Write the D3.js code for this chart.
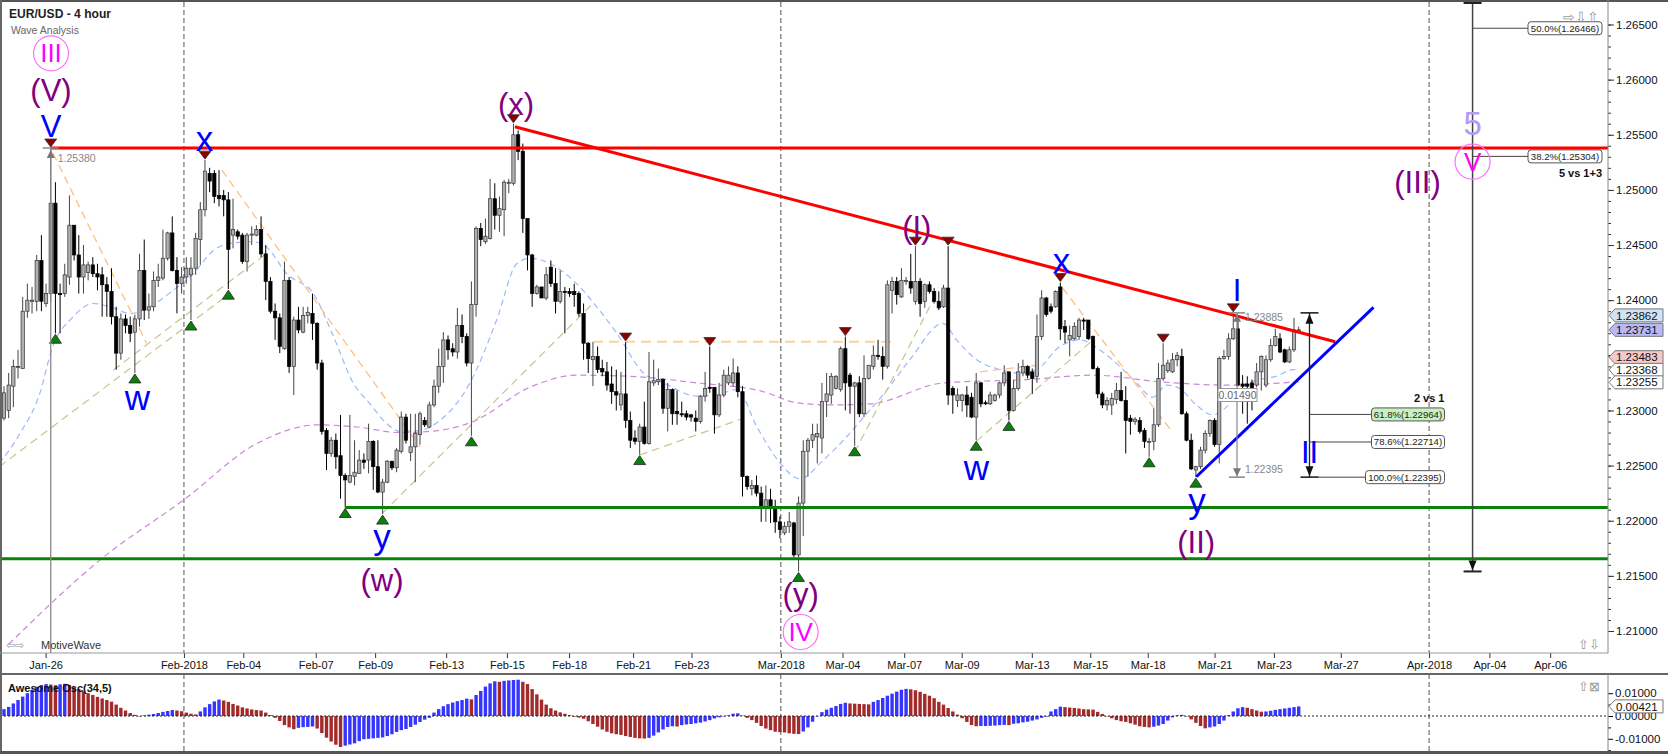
<!DOCTYPE html>
<html><head><meta charset="utf-8">
<script src="https://cdn.jsdelivr.net/npm/d3@7"></script>
<style>
html,body{margin:0;padding:0;background:#fff;}
svg{display:block;font-family:"Liberation Sans",Arial,sans-serif;}
</style></head><body>
<svg id="chart" width="1668" height="754"></svg>
<script>
// ---------------- DATA ----------------
const priceBase = 1.2;           // candle values are pips above 1.2000
const openPips = [
293,300,322,339,338,390,399,399,436,397, 406,488,406,406,421,468,441,421,425,432,
424,423,414,408,385,352,383,377,371,383, 427,391,394,418,420,438,461,427,415,421,
423,429,455,482,515,515,495,495,491,459, 462,459,435,459,459,464,442,417,390,384,
356,418,340,382,371,386,388,379,343,282, 261,273,259,241,235,240,243,255,255,272,
249,226,235,254,248,263,294,262,267,278, 291,285,305,322,340,364,356,353,377,367,
343,396,465,453,456,492,477,482,506,506, 550,535,474,441,406,412,402,430,415,399,
408,408,408,406,388,361,346,349,338,335, 324,317,305,315,291,275,272,285,270,325,
326,328,302,319,299,297,297,296,293,290, 313,321,321,296,314,325,325,334,317,240,
229,232,225,213,219,211,199,189,195,198, 169,216,263,273,276,275,308,314,320,319,
356,332,322,325,297,329,340,350,349,340, 409,417,403,417,417,399,417,399,414,408,
399,394,411,320,309,309,314,312,294,325, 307,306,309,314,325,335,300,320,334,340,
335,331,367,402,394,394,412,376,364,365, 367,382,382,367,338,315,305,305,310,318,
309,293,290,291,282,271,272,287,329,336, 335,346,349,297,273,246,249,264,279,291,
269,347,349,365,374,324,324,325,323,335, 323,346,359,365,355,344,355,373];
const highPips = [
322,334,346,355,403,415,412,441,459,415, 538,507,415,433,495,468,459,450,435,439,
433,430,421,429,394,388,387,385,387,442, 455,406,426,433,464,462,476,439,430,439,
439,461,489,527,520,518,518,500,498,492, 464,461,461,467,468,476,450,421,397,388,
435,421,385,394,394,394,406,380,346,284, 276,279,296,243,296,273,264,261,288,273,
273,238,255,254,266,299,297,297,297,299, 294,308,328,356,371,368,361,393,387,370,
417,467,470,474,510,506,494,509,510,560, 554,542,474,442,414,412,430,436,429,427,
412,411,415,408,397,362,362,358,346,344, 340,337,335,362,299,282,288,308,353,346,
338,329,325,320,318,308,300,297,300,314, 335,358,321,325,337,340,347,340,322,241,
237,241,231,232,229,219,204,199,208,199, 222,273,275,288,288,325,334,334,332,358,
367,334,326,331,350,341,359,364,358,418, 421,421,429,421,442,449,420,415,417,411,
408,414,449,322,320,315,322,316,334,326, 309,317,315,326,341,335,328,343,346,341,
338,387,409,403,397,409,416,382,377,380, 384,384,382,368,340,317,312,316,325,335,
322,296,294,294,284,275,302,343,361,346, 352,353,356,299,279,250,267,282,292,293,
349,355,370,388.5,385,332,331,328,343,350, 350,365,374,370,356,358,384,376];
const lowPips = [
291,293,303,329,338,384,388,390,390,394, 398,370,370,403,414,436,406,406,418,421,
409,385,385,378,337,346,370,362,334,376, 382,383,390,412,418,436,426,388,406,415,
382,423,432,476,498,488,485,476,410,447, 455,433,426,450,458,439,400,388,364,352,
355,334,314,370,370,379,364,337,278,246, 258,247,220,212,234,232,243,247,243,228,
225,206,234,246,244,261,270,254,235,269, 285,284,303,316,325,346,349,347,361,340,
277,385,449,451,455,464,462,458,497,504, 527,461,427,394,405,402,400,412,388,397,
370,403,394,385,346,334,322,334,331,318, 306,300,300,284,266,269,260,269,269,322,
323,297,281,287,287,294,291,290,281,288, 308,316,279,294,312,323,322,312,222,228,
223,222,199,199,198,189,184,187,189,167, 154,186,240,266,252,261,294,306,319,317,
300,297,268,294,294,328,337,346,328,338, 388,396,402,414,406,396,385,393,406,397,
391,393,305,297,303,299,294,293,273,303, 305,305,308,311,322,291,299,318,331,329,
315,325,364,385,388,393,364,361,349,364, 364,373,364,337,311,302,300,296,306,308,
261,278,287,279,266,258,264,285,327,334, 334,340,296,272,246,239.5,247,261,276,267,
252,346,346,364,322,297,288,300,321,318, 321,344,358,352,343,343,353,371];
const closePips = [
316,323,340,340,390,400,400,436,399,406, 488,406,405,423,468,441,421,432,432,424,
421,414,408,385,352,383,377,370,383,427, 391,394,418,421,438,461,427,415,421,429,
429,456,482,517,508,494,492,491,446,464, 458,435,459,460,464,442,417,390,384,358,
418,340,382,373,386,389,379,343,281,261, 273,258,241,237,241,244,255,253,272,249,
226,235,254,248,264,294,273,267,279,297, 287,305,322,340,364,355,353,377,367,343,
396,465,455,458,492,477,483,507,507,550, 535,474,441,406,412,402,423,415,399,408,
407,406,405,388,361,347,349,337,335,323, 317,314,315,291,273,272,285,270,326,327,
328,302,319,297,297,296,294,294,290,313, 320,320,296,314,332,332,334,317,240,231,
232,225,213,219,211,199,192,195,199,169, 216,263,273,278,279,308,315,331,331,356,
325,322,325,297,329,341,350,349,340,414, 417,405,418,418,411,417,397,414,408,399,
393,411,314,314,314,314,305,294,325,306, 306,314,314,325,334,300,320,335,340,332,
329,367,402,387,390,408,374,371,368,376, 382,381,365,338,315,305,309,311,318,309,
291,290,292,281,272,272,287,329,341,343, 346,350,297,273,247,249,264,279,291,269,
347,349,365,374,323,322,322,320,335,349, 346,359,367,353,344,355,373,373.1];

// Awesome Oscillator (34,5), in thousandths
const aoThousandths = [
3.0,4.0,5.5,7.0,8.5,10.0,11.5,12.8,13.6,14.0, 13.8,13.5,13.9,14.1,13.6,12.6,11.8,10.9,10.0,9.2,
8.4,7.7,7.0,6.3,5.0,3.6,2.4,1.3,0.5,-0.2, 0.3,0.6,0.9,1.3,1.8,2.2,2.6,2.4,2.1,1.5,
1.0,0.7,2.0,3.8,5.2,6.4,7.2,6.8,6.2,5.3, 4.6,3.8,3.3,2.9,2.6,2.4,1.5,0.4,-0.8,-2.2,
-4.0,-5.0,-5.8,-5.2,-4.9,-4.8,-4.6,-5.5,-7.5,-9.5, -11.2,-12.6,-13.6,-13.0,-12.5,-12.0,-11.0,-10.2,-10.0,-9.8,
-9.6,-9.4,-8.8,-8.0,-7.0,-6.2,-5.7,-4.8,-3.8,-2.6, -1.6,-0.8,1.5,3.0,4.3,5.2,5.9,6.5,7.0,7.6,
7.3,9.2,11.0,12.9,14.3,15.2,15.0,15.4,15.6,15.8, 15.9,15.0,14.0,11.8,9.5,7.2,5.0,3.4,2.4,1.6,
1.0,0.4,-0.3,-0.7,-1.2,-2.3,-3.5,-4.7,-5.9,-6.9, -7.6,-8.0,-8.3,-8.8,-9.2,-9.6,-9.8,-9.9,-9.6,-8.6,
-7.2,-5.9,-4.8,-4.5,-4.6,-4.0,-3.7,-3.5,-3.2,-2.9, -2.4,-1.8,-1.1,-0.6,-0.2,0.3,1.0,1.2,0.2,-0.8,
-1.8,-3.0,-4.4,-5.5,-6.2,-6.9,-7.1,-7.2,-7.6,-7.8, -7.9,-6.8,-5.0,-2.5,-0.2,1.7,2.8,3.6,4.4,5.3,
5.8,5.5,5.4,5.3,5.2,5.1,6.2,7.0,7.9,8.9, 9.8,10.7,11.5,11.9,11.7,11.3,10.6,9.7,8.9,7.8,
6.2,5.0,3.5,2.0,0.6,-1.0,-2.6,-4.0,-4.5,-4.4, -4.4,-4.3,-4.2,-4.0,-3.9,-4.0,-3.4,-3.2,-2.8,-2.5,
-2.0,-1.5,-0.8,-0.3,2.0,3.0,4.1,3.9,3.7,3.5, 3.3,3.0,2.9,2.8,1.8,0.9,-0.2,-1.0,-1.8,-2.3,
-2.6,-3.2,-3.8,-4.5,-4.8,-5.0,-4.7,-4.2,-3.5,-2.0, -0.6,0.3,0.5,-0.2,-1.5,-3.0,-4.4,-5.4,-5.0,-4.6,
-3.5,-2.0,0.4,2.0,3.4,3.9,3.6,3.0,2.4,1.9, 2.0,2.3,2.7,3.0,3.3,3.6,3.9,4.2];

// time axis (bar index of each date tick)
const dateTickLabels = ["Jan-26","Feb-2018","Feb-04","Feb-07","Feb-09","Feb-13","Feb-15","Feb-18","Feb-21","Feb-23",
  "Mar-2018","Mar-04","Mar-07","Mar-09","Mar-13","Mar-15","Mar-18","Mar-21","Mar-23","Mar-27","Apr-2018","Apr-04","Apr-06"];
const dateTickBars = [8.9,38.5,51.2,66.7,79.4,94.6,107.6,120.9,134.6,147.1,
  166.2,179.4,192.6,204.9,219.9,232.4,244.7,259,271.7,286,304.9,317.8,330.8];
const monthStartBars = [38.5,166.2,304.9];
const priceTicks = [1.21,1.215,1.22,1.225,1.23,1.235,1.24,1.245,1.25,1.255,1.26,1.265];
const aoTicks = [0.01,0,-0.01];

// indicator lines: [bar, price]
const fastMA = [[-1,1.2252],[3.4,1.2279],[7.7,1.2316],[10.2,1.2355],[14.8,1.2385],[19.1,1.2397],[22.7,1.2394],[27,1.2388],[31.2,1.2394],[36.2,1.2409],[40.5,1.2424],[44.8,1.2445],[47.6,1.2451],[53.3,1.2453],[56.2,1.2448],[60.5,1.2424],[66.2,1.2406],[70.5,1.2367],[74.7,1.2325],[78.3,1.2306],[81.9,1.2288],[84.7,1.2281],[89,1.2282],[93.3,1.2291],[99.7,1.2325],[105.4,1.2382],[109.7,1.2433],[112.6,1.2438],[122.5,1.2415],[126.8,1.2394],[131.1,1.2370],[136.8,1.2334],[141.1,1.2325],[148.3,1.2313],[152.5,1.2314],[156.8,1.2319],[161.1,1.2285],[166.1,1.2252],[170.3,1.2238],[175.3,1.2255],[179.6,1.2273],[183.5,1.2292],[188.8,1.2318],[193.8,1.2346],[200.9,1.2379],[203.8,1.2364],[208.1,1.2346],[213.1,1.2337],[217.3,1.2334],[220.9,1.2337],[225.9,1.2358],[230.2,1.2364],[234.4,1.2355],[238.7,1.2340],[242.3,1.2325],[245.8,1.2312],[248.7,1.2323],[251.5,1.2320],[255.1,1.2305],[258.6,1.2296],[261.5,1.2303],[265,1.2322],[268.6,1.2328],[272.2,1.2331],[275.7,1.2337],[277,1.2337]];
const slowMA = [[1,1.2088],[21.3,1.2167],[38.5,1.2219],[54.1,1.2270],[67.2,1.2287],[75.5,1.2285],[84.7,1.2280],[91.1,1.2281],[100.4,1.2290],[112.5,1.2321],[122.5,1.2332],[133.9,1.2331],[148.2,1.2325],[162.5,1.2317],[169.6,1.2307],[176.7,1.2305],[185.3,1.2306],[201,1.2325],[218.8,1.2328],[233.1,1.2332],[247.3,1.2326],[261.6,1.2323],[277,1.2326]];
const swingDownLines = [[10.5,1.25332,30.5,1.23609],[46.6,1.2518,89,1.22671],[208.8,1.2335,220.9,1.2341],[226.5,1.2411,249.5,1.2283]];
const swingFlatLines = [[126,1.23623,190.3,1.23623]];
const swingUpLines = [[-1,1.2249,48,1.2405],[23.4,1.23366,56.2,1.24425],[81,1.2207,126,1.2397],[136,1.22596,158.2,1.22929],[182,1.2262,199.5,1.2406],[208,1.2272,233,1.2364]];

// drawn levels / trend lines
const resistanceLevel = {bar:10, price:1.2538};
const supportLevels = [{bar:73, price:1.22121},{bar:-1, price:1.21656}];
const downTrend = [109.3,1.25573,284.8,1.23623];
const upTrend = [255.1,1.22399,293,1.23935];

const swingHighBars = [10,43,109,133,151,180,195,202,226,248,263];
const swingLowBars = [11,28,40,48,73,81,100,136,170,182,208,215,245,255];

const waveLabels = [
  {t:"III", bar:10.06, price:1.26239, kind:"primary"},
  {t:"(V)", bar:10.06, price:1.25900, kind:"intermediate"},
  {t:"V", bar:10.06, price:1.25573, kind:"minor"},
  {t:"x", bar:42.92, price:1.25464, kind:"minor"},
  {t:"(x)", bar:109.54, price:1.25778, kind:"intermediate"},
  {t:"w", bar:28.56, price:1.23122, kind:"minor"},
  {t:"y", bar:80.87, price:1.21857, kind:"minor"},
  {t:"(w)", bar:80.87, price:1.21459, kind:"intermediate"},
  {t:"(y)", bar:170.45, price:1.21334, kind:"intermediate"},
  {t:"IV", bar:170.45, price:1.20991, kind:"primary"},
  {t:"(I)", bar:195.29, price:1.24660, kind:"intermediate"},
  {t:"w", bar:208.04, price:1.22487, kind:"minor"},
  {t:"x", bar:226.23, price:1.24362, kind:"minor"},
  {t:"I", bar:263.8, price:1.24092, kind:"minor"},
  {t:"y", bar:255.24, price:1.22186, kind:"minor"},
  {t:"(II)", bar:255.07, price:1.21803, kind:"intermediate"},
  {t:"II", bar:279.31, price:1.22623, kind:"minor"},
  {t:"(III)", bar:302.42, price:1.25068, kind:"intermediate"},
  {t:"5", bar:314.2, price:1.25604, kind:"count"},
  {t:"V", bar:314.2, price:1.25256, kind:"primary"}
];

const wave5Tool = {bar:314.2, from:1.2154};
const wave5Levels = [{pct:"50.0%", value:1.26466},{pct:"38.2%", value:1.25304}];
const wave2Tool = {bar:279.31, top:1.23885, bottom:1.22395};
const wave2Levels = [{pct:"61.8%", value:1.22964},{pct:"78.6%", value:1.22714},{pct:"100.0%", value:1.22395}];
const waveIMeasure = {bar:263.8, top:1.23885, bottom:1.22395, diff:"0.01490"};
const waveVMeasure = {bar:10, top:1.2538};
const priceTags = [1.23862,1.23731,1.23483,1.23368,1.23255];
const aoTag = 0.00421;

// ---------------- LAYOUT ----------------
const svg = d3.select("#chart");
const PLOT_R = 1608, MAIN_T = 2, MAIN_B = 653, AXIS_B = 674, AO_B = 751;
const X0 = 4, DX = 4.674;
const x = d3.scaleLinear().domain([0,100]).range([X0, X0 + 100*DX]);
const y = d3.scaleLinear().domain([1.21,1.265]).range([631,24.5]);
const yAO = d3.scaleLinear().domain([-0.01,0.01]).range([738.8,693.2]);
const P = v => priceBase + v/10000;

const candles = openPips.map((o,i)=>({i, o:P(o), h:P(highPips[i]), l:P(lowPips[i]), c:P(closePips[i])}));

svg.append("rect").attr("width",1668).attr("height",754).attr("fill","#fff");
const defs = svg.append("defs");
defs.append("clipPath").attr("id","cMain").append("rect").attr("x",0).attr("y",MAIN_T).attr("width",PLOT_R).attr("height",MAIN_B-MAIN_T);
defs.append("clipPath").attr("id","cAO").append("rect").attr("x",0).attr("y",AXIS_B).attr("width",PLOT_R).attr("height",AO_B-AXIS_B);

const gMain = svg.append("g").attr("clip-path","url(#cMain)");
const gAO = svg.append("g").attr("clip-path","url(#cAO)");

// month separators
monthStartBars.forEach(b=>{
  [[MAIN_T,MAIN_B,gMain],[AXIS_B,AO_B,gAO]].forEach(([a,bb,g])=>{
    g.append("line").attr("x1",x(b)).attr("x2",x(b)).attr("y1",a).attr("y2",bb)
      .attr("stroke","#555").attr("stroke-width",1).attr("stroke-dasharray","5,3");
  });
});

// moving averages
const maLine = d3.line().x(d=>x(d[0])).y(d=>y(d[1])).curve(d3.curveMonotoneX);
gMain.append("path").attr("d",maLine(slowMA)).attr("fill","none").attr("stroke","#cc88d8").attr("stroke-width",1.2).attr("stroke-dasharray","6,4");
gMain.append("path").attr("d",maLine(fastMA)).attr("fill","none").attr("stroke","#9db8ff").attr("stroke-width",1.2).attr("stroke-dasharray","6,4");

function seg(g, s, color, w, dash){
  g.append("line").attr("x1",x(s[0])).attr("y1",y(s[1])).attr("x2",x(s[2])).attr("y2",y(s[3]))
   .attr("stroke",color).attr("stroke-width",w).attr("stroke-dasharray",dash||null);
}
swingUpLines.forEach(s=>seg(gMain,s,"#c9c38e",1.2,"8,5"));
swingDownLines.forEach(s=>seg(gMain,s,"#ffbf80",1.3,"8,5"));
swingFlatLines.forEach(s=>seg(gMain,s,"#ffd0a0",2,"10,6"));

// candles
const bw = 3.3;
const cg = gMain.append("g");
cg.selectAll("line.w").data(candles).join("line").attr("class","w")
  .attr("x1",d=>x(d.i)).attr("x2",d=>x(d.i))
  .attr("y1",d=>y(d.h)).attr("y2",d=>y(d.l))
  .attr("stroke",d=>d.c>=d.o?"#444":"#000").attr("stroke-width",1);
cg.selectAll("rect.b").data(candles).join("rect").attr("class","b")
  .attr("x",d=>x(d.i)-bw/2).attr("width",bw)
  .attr("y",d=>y(Math.max(d.o,d.c)))
  .attr("height",d=>Math.max(1,Math.abs(y(d.o)-y(d.c))))
  .attr("fill",d=>d.c>=d.o?"#b0b0b0":"#000")
  .attr("stroke",d=>d.c>=d.o?"#333":"#000").attr("stroke-width",0.7);

// levels
const rightBar = x.invert(PLOT_R);
seg(gMain,[supportLevels[0].bar,supportLevels[0].price,rightBar,supportLevels[0].price],"#0a820a",3);
seg(gMain,[supportLevels[1].bar,supportLevels[1].price,rightBar,supportLevels[1].price],"#0a820a",3);
seg(gMain,[resistanceLevel.bar,resistanceLevel.price,rightBar,resistanceLevel.price],"#ff0000",3);
seg(gMain,downTrend,"#ff0000",3);
seg(gMain,upTrend,"#0000ff",3);

// swing markers
swingHighBars.forEach(i=>{
  const cx=x(i), cy=y(candles[i].h)-1;
  gMain.append("path").attr("d",`M${cx},${cy} L${cx-6},${cy-8} L${cx+6},${cy-8} Z`).attr("fill","#8b0000").attr("stroke","#333").attr("stroke-width",0.8);
});
swingLowBars.forEach(i=>{
  const cx=x(i), cy=y(candles[i].l)+1;
  gMain.append("path").attr("d",`M${cx},${cy} L${cx-6},${cy+9} L${cx+6},${cy+9} Z`).attr("fill","#0a820a").attr("stroke","#222").attr("stroke-width",0.8);
});

// measurement at wave V high
{
  const mx=x(waveVMeasure.bar), my=y(waveVMeasure.top);
  gMain.append("line").attr("x1",mx).attr("x2",mx).attr("y1",my).attr("y2",MAIN_B).attr("stroke","#888").attr("stroke-width",1.3);
  gMain.append("line").attr("x1",mx-8).attr("x2",mx+8).attr("y1",my).attr("y2",my).attr("stroke","#888").attr("stroke-width",1.5);
  gMain.append("path").attr("d",`M${mx},${my+2} L${mx-4},${my+10} L${mx+4},${my+10} Z`).attr("fill","#777");
  gMain.append("text").attr("x",mx+7).attr("y",my+14).attr("font-size",10.5).attr("fill","#888").text(waveVMeasure.top.toFixed(5));
}
// measurement of wave I
{
  const mx=x(waveIMeasure.bar), t=y(waveIMeasure.top), b=y(waveIMeasure.bottom);
  const g=gMain.append("g");
  g.append("line").attr("x1",mx).attr("x2",mx).attr("y1",t).attr("y2",b).attr("stroke","#888").attr("stroke-width",1.2);
  [t,b].forEach(v=>g.append("line").attr("x1",mx-8).attr("x2",mx+8).attr("y1",v).attr("y2",v).attr("stroke","#888").attr("stroke-width",1.5));
  g.append("path").attr("d",`M${mx},${t+1} L${mx-4},${t+9} L${mx+4},${t+9} Z`).attr("fill","#777");
  g.append("path").attr("d",`M${mx},${b-1} L${mx-4},${b-9} L${mx+4},${b-9} Z`).attr("fill","#777");
  g.append("text").attr("x",mx+8).attr("y",t+4).attr("dy","0.35em").attr("font-size",10.5).attr("fill","#888").text(waveIMeasure.top.toFixed(5));
  g.append("text").attr("x",mx+8).attr("y",b-8).attr("dy","0.35em").attr("font-size",10.5).attr("fill","#888").text(waveIMeasure.bottom.toFixed(5));
  const by=395;
  g.append("rect").attr("x",mx-19).attr("y",by-6.5).attr("width",39).attr("height",13).attr("fill","#fff").attr("stroke","#999");
  g.append("text").attr("x",mx+0.5).attr("y",by).attr("dy","0.35em").attr("text-anchor","middle").attr("font-size",10.5).attr("fill","#666").text(waveIMeasure.diff);
}

function fibBox(g, right, yc, text, fill, w){
  g.append("rect").attr("x",right-w).attr("y",yc-6.5).attr("width",w).attr("height",13).attr("rx",3)
    .attr("fill",fill).attr("stroke","#555").attr("stroke-width",1);
  g.append("text").attr("x",right-w/2).attr("y",yc).attr("dy","0.35em").attr("text-anchor","middle")
    .attr("font-size",9.6).attr("fill","#222").text(text);
}
// wave 2 vs 1 tool
{
  const g=gMain.append("g"); const mx=x(wave2Tool.bar), t=y(wave2Tool.top), b=y(wave2Tool.bottom);
  g.append("line").attr("x1",mx).attr("x2",mx).attr("y1",t).attr("y2",b).attr("stroke","#222").attr("stroke-width",1.3);
  [t,b].forEach(v=>g.append("line").attr("x1",mx-9).attr("x2",mx+9).attr("y1",v).attr("y2",v).attr("stroke","#222").attr("stroke-width",1.6));
  g.append("path").attr("d",`M${mx},${t+1} L${mx-4},${t+11} L${mx+4},${t+11} Z`).attr("fill","#111");
  g.append("path").attr("d",`M${mx},${b-1} L${mx-4},${b-11} L${mx+4},${b-11} Z`).attr("fill","#111");
  const right = 1444.5;
  wave2Levels.forEach((lv,k)=>{
    const yy=y(lv.value), w = k===2?79:73;
    g.append("line").attr("x1",mx).attr("x2",right-w).attr("y1",yy).attr("y2",yy).attr("stroke","#444").attr("stroke-width",1);
    fibBox(g,right,yy,`${lv.pct}(${lv.value.toFixed(5)})`,k===0?"#c8f0c0":"#fff",w);
  });
  g.append("text").attr("x",right).attr("y",398).attr("dy","0.35em").attr("text-anchor","end").attr("font-size",11).attr("font-weight","bold").attr("fill","#111").text("2 vs 1");
}
// wave 5 vs 1+3 tool
{
  const g=gMain.append("g"); const mx=x(wave5Tool.bar), b=y(wave5Tool.from);
  g.append("line").attr("x1",mx).attr("x2",mx).attr("y1",MAIN_T).attr("y2",b).attr("stroke","#444").attr("stroke-width",1.5);
  g.append("line").attr("x1",mx-9).attr("x2",mx+9).attr("y1",MAIN_T+1).attr("y2",MAIN_T+1).attr("stroke","#222").attr("stroke-width",2);
  g.append("line").attr("x1",mx-9).attr("x2",mx+9).attr("y1",b).attr("y2",b).attr("stroke","#222").attr("stroke-width",2);
  g.append("path").attr("d",`M${mx},${b-1} L${mx-4},${b-11} L${mx+4},${b-11} Z`).attr("fill","#111");
  const right=1602;
  wave5Levels.forEach(lv=>{
    const yy=y(lv.value);
    g.append("line").attr("x1",mx).attr("x2",right-74).attr("y1",yy).attr("y2",yy).attr("stroke","#444").attr("stroke-width",1);
    fibBox(g,right,yy,`${lv.pct}(${lv.value.toFixed(5)})`,"#fff",74);
  });
  g.append("text").attr("x",right).attr("y",173).attr("dy","0.35em").attr("text-anchor","end").attr("font-size",11).attr("font-weight","bold").attr("fill","#111").text("5 vs 1+3");
}

// wave labels
const kindStyle = {
  primary:{color:"#ff00ff", size:26},
  intermediate:{color:"#800080", size:31},
  minor:{color:"#0000ff", size:31},
  count:{color:"#b39cf2", size:33}
};
waveLabels.forEach(L=>{
  const st=kindStyle[L.kind]; const cx=x(L.bar), cy=y(L.price);
  let size = st.size;
  if(L.kind==="minor" && /^[a-z]$/.test(L.t)) size = 35;
  if(L.kind==="primary"){
    gMain.append("circle").attr("cx",cx).attr("cy",cy).attr("r",17.5).attr("fill","none").attr("stroke","#ff70ff").attr("stroke-width",1.2);
  }
  gMain.append("text").attr("x",cx).attr("y",cy).attr("dominant-baseline","central").attr("text-anchor","middle")
    .attr("font-size",size).attr("fill",st.color).text(L.t);
});

// title
svg.append("text").attr("x",9).attr("y",18).attr("font-size",13).attr("font-weight","bold").attr("fill","#222")
  .attr("textLength",102).attr("lengthAdjust","spacingAndGlyphs").text("EUR/USD - 4 hour");
svg.append("text").attr("x",11).attr("y",34).attr("font-size",10.5).attr("fill","#666").text("Wave Analysis");
svg.append("text").attr("x",6).attr("y",649).attr("font-size",11).attr("fill","#999").text("\u21E6\u21E8");
svg.append("text").attr("x",41).attr("y",649).attr("font-size",11).attr("fill","#333").text("MotiveWave");
svg.append("text").attr("x",1563).attr("y",22).attr("font-size",14).attr("fill","#999").text("\u21E8\u21E9\u21E7");
svg.append("text").attr("x",1578).attr("y",649).attr("font-size",13).attr("fill","#999").text("\u21E7\u21E9");
svg.append("text").attr("x",1578).attr("y",691).attr("font-size",13).attr("fill","#999").text("\u21E7\u22A0");

// ---------------- Awesome Oscillator ----------------
const aoData = aoThousandths.map((v,i)=>({i, v:v/1000}));
let prevCol = "#3535ff";
aoData.forEach((d,k)=>{
  if(k>0){ if(d.v>aoData[k-1].v) prevCol="#3535ff"; else if(d.v<aoData[k-1].v) prevCol="#a32a2a"; }
  d.col = prevCol;
});
gAO.selectAll("rect.ao").data(aoData).join("rect").attr("class","ao")
  .attr("x",d=>x(d.i)-1.7).attr("width",3.4)
  .attr("y",d=>Math.min(yAO(0),yAO(d.v))).attr("height",d=>Math.abs(yAO(d.v)-yAO(0)))
  .attr("fill",d=>d.col);
gAO.append("line").attr("x1",0).attr("x2",PLOT_R).attr("y1",yAO(0)).attr("y2",yAO(0)).attr("stroke","#222").attr("stroke-width",1).attr("stroke-dasharray","2,2");
svg.append("text").attr("x",8).attr("y",692).attr("font-size",11).attr("font-weight","bold").attr("fill","#111").text("Awesome Osc(34,5)");

// ---------------- Axes & frame ----------------
// price axis
const gy = svg.append("g").attr("transform",`translate(${PLOT_R},0)`);
gy.call(d3.axisRight(y).tickValues(d3.range(1210,1266,1).map(v=>v/1000).filter(v=>y(v)>MAIN_T&&y(v)<MAIN_B)).tickSize(3).tickFormat(""));
gy.call(g=>g.select(".domain").remove());
const gy2 = svg.append("g").attr("transform",`translate(${PLOT_R},0)`);
gy2.call(d3.axisRight(y).tickValues(priceTicks).tickSize(6).tickFormat(d=>d.toFixed(5)));
gy2.call(g=>g.select(".domain").remove());
gy2.selectAll("text").attr("font-size",11.5).attr("font-family","Liberation Sans, Arial, sans-serif").attr("fill","#111").attr("x",8);
svg.selectAll(".tick line").attr("stroke","#333");

// AO axis
const ga = svg.append("g").attr("transform",`translate(${PLOT_R},0)`);
ga.call(d3.axisRight(yAO).tickValues(aoTicks).tickSize(5).tickFormat(d=>d.toFixed(5)));
ga.call(g=>g.select(".domain").remove());
ga.selectAll("text").attr("font-size",11.5).attr("font-family","Liberation Sans, Arial, sans-serif").attr("fill","#111").attr("x",7);
const ga2 = svg.append("g").attr("transform",`translate(${PLOT_R},0)`);
ga2.call(d3.axisRight(yAO).tickValues([-0.015,-0.005,0.005]).tickSize(3).tickFormat(""));
ga2.call(g=>g.select(".domain").remove());

// x axis
const gx = svg.append("g").attr("transform",`translate(0,${MAIN_B})`);
gx.call(d3.axisBottom(x).tickValues(dateTickBars).tickSize(5).tickFormat((d,i)=>dateTickLabels[i]));
gx.call(g=>g.select(".domain").remove());
gx.selectAll("text").attr("font-size",11).attr("font-family","Liberation Sans, Arial, sans-serif").attr("fill","#111").attr("y",8);
gx.selectAll(".tick line").attr("stroke","#333");

// frame lines
const frame = svg.append("g").attr("fill","none");
frame.append("line").attr("x1",0).attr("x2",1668).attr("y1",1).attr("y2",1).attr("stroke","#555").attr("stroke-width",2);
frame.append("line").attr("x1",1).attr("x2",1).attr("y1",0).attr("y2",754).attr("stroke","#666").attr("stroke-width",2);
frame.append("line").attr("x1",0).attr("x2",PLOT_R).attr("y1",MAIN_B).attr("y2",MAIN_B).attr("stroke","#999").attr("stroke-width",1);
frame.append("line").attr("x1",0).attr("x2",1668).attr("y1",AXIS_B).attr("y2",AXIS_B).attr("stroke","#666").attr("stroke-width",2);
frame.append("line").attr("x1",0).attr("x2",1668).attr("y1",AO_B+1.5).attr("y2",AO_B+1.5).attr("stroke","#555").attr("stroke-width",3);
frame.append("line").attr("x1",PLOT_R).attr("x2",PLOT_R).attr("y1",0).attr("y2",MAIN_B).attr("stroke","#888").attr("stroke-width",1);
frame.append("line").attr("x1",PLOT_R).attr("x2",PLOT_R).attr("y1",AXIS_B).attr("y2",AO_B).attr("stroke","#888").attr("stroke-width",1);

// value tags
function tag(yc, text, fill){
  const x0=PLOT_R+1, x1=1663, h=6.5;
  svg.append("path").attr("d",`M${x0},${yc} L${x0+6},${yc-h} L${x1},${yc-h} L${x1},${yc+h} L${x0+6},${yc+h} Z`)
    .attr("fill",fill).attr("stroke","#777").attr("stroke-width",1);
  svg.append("text").attr("x",x0+7).attr("y",yc).attr("dy","0.36em").attr("font-size",11.5).attr("fill","#111").text(text);
}
const tagFills = ["#cfe2f6","#b9b8f4","#f6c9c9","#ffffff","#ffffff"];
priceTags.forEach((v,k)=>tag(y(v), v.toFixed(5), tagFills[k]));
tag(yAO(aoTag), aoTag.toFixed(5), "#ffffff");
</script>
</body></html>
